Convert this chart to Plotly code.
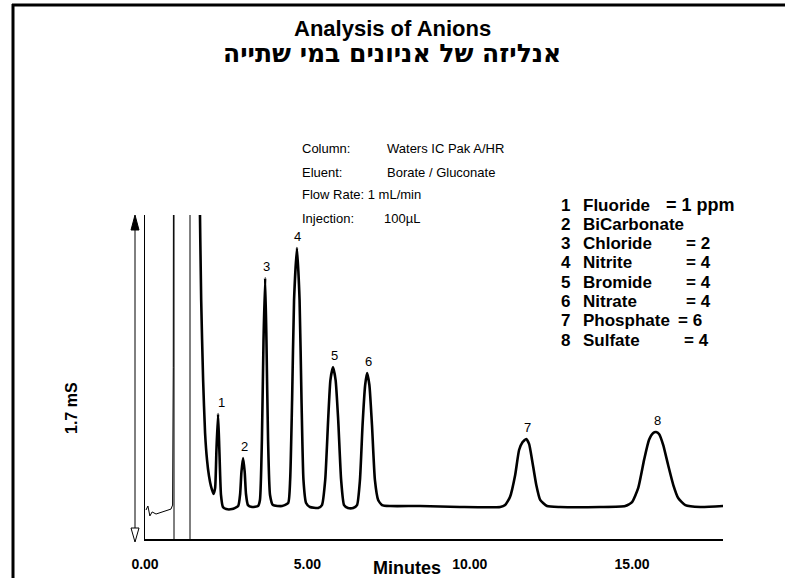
import plotly.graph_objects as go

# ---------------- data ----------------
# early trace segment (thin, before the injection spike)
pre_time = [0.03, 0.09, 0.15, 0.22, 0.34, 0.52, 0.71, 0.80, 0.85, 0.87, 0.88]
pre_signal = [0.152, 0.173, 0.121, 0.142, 0.131, 0.142, 0.152, 0.157, 0.178, 0.9, 2.5]

# main chromatogram (minutes, µS)
time_min = [1.66, 1.68, 1.73, 1.79, 1.85, 1.91, 1.97, 2.03, 2.11,
            2.16, 2.20, 2.25, 2.29, 2.34, 2.40, 2.50, 2.68,
            2.87, 2.93, 2.97, 3.02, 3.07, 3.11, 3.17, 3.30, 3.48,
            3.54, 3.60, 3.65, 3.70, 3.74, 3.79, 3.85, 3.94, 4.22,
            4.41, 4.47, 4.53, 4.59, 4.68, 4.76, 4.82, 4.88, 4.96, 5.08, 5.33,
            5.45, 5.55, 5.64, 5.71, 5.79, 5.87, 5.95, 6.04, 6.13, 6.25, 6.41,
            6.53, 6.62, 6.70, 6.78, 6.84, 6.91, 6.99, 7.08, 7.18, 7.30, 7.55,
            8.47, 9.70, 10.94,
            11.09, 11.24, 11.40, 11.52, 11.63, 11.74, 11.83, 11.92, 12.05, 12.17, 12.38,
            12.78, 14.02, 14.79,
            15.00, 15.19, 15.37, 15.52, 15.65, 15.74, 15.83, 15.96, 16.11, 16.27, 16.42,
            16.64, 17.10, 17.81]
signal_uS = [2.5, 1.88, 1.254, 0.834, 0.556, 0.415, 0.331, 0.278, 0.236,
             0.268, 0.467, 0.656, 0.467, 0.231, 0.168, 0.157, 0.157,
             0.173, 0.236, 0.352, 0.425, 0.352, 0.236, 0.178, 0.168, 0.173,
             0.205, 0.519, 1.044, 1.369, 1.044, 0.519, 0.231, 0.178, 0.173,
             0.189, 0.310, 0.729, 1.254, 1.527, 1.254, 0.729, 0.310, 0.189, 0.168, 0.163,
             0.178, 0.310, 0.624, 0.834, 0.902, 0.834, 0.624, 0.310, 0.178, 0.163, 0.163,
             0.178, 0.310, 0.598, 0.808, 0.871, 0.808, 0.598, 0.310, 0.205, 0.178, 0.173,
             0.173, 0.168, 0.168,
             0.178, 0.220, 0.336, 0.467, 0.509, 0.525, 0.498, 0.415, 0.283, 0.205, 0.173,
             0.168, 0.168, 0.173,
             0.194, 0.268, 0.415, 0.519, 0.556, 0.561, 0.551, 0.493, 0.388, 0.283, 0.215,
             0.178, 0.168, 0.173]

# event marker lines (minutes)
marker_times = [0.893, 1.386]

# peaks
peak_numbers = ["1", "2", "3", "4", "5", "6", "7", "8"]
peak_times = [2.25, 3.02, 3.70, 4.68, 5.79, 6.84, 11.74, 15.74]
peak_heights = [0.656, 0.425, 1.369, 1.527, 0.902, 0.871, 0.525, 0.561]

# legend of anions
anion_names = ["Fluoride", "BiCarbonate", "Chloride", "Nitrite", "Bromide",
               "Nitrate", "Phosphate", "Sulfate"]
anion_amounts = ["= 1 ppm", "", "= 2", "= 4", "= 4", "= 4", "= 6", "= 4"]

# conditions
cond_labels = ["Column:", "Eluent:", "Flow Rate: 1 mL/min", "Injection:"]
cond_values = ["Waters IC Pak A/HR", "Borate / Gluconate", "", "100µL"]

x_tick_vals = [0, 5, 10, 15]
x_tick_text = ["0.00", "5.00", "10.00", "15.00"]
scale_value = 1.7

# ---------------- layout helpers ----------------
W, H = 785, 578
L, R, T, B = 145, 723, 215, 539
FONT = "Liberation Sans, Arial, sans-serif"
HEB_FONT = "DejaVu Sans, Liberation Sans, sans-serif"


def px(x):
    return (x - L) / (R - L)


def py(y):
    return (B - y) / (B - T)


fig = go.Figure()
fig.add_trace(go.Scatter(x=pre_time, y=pre_signal, mode="lines",
                         line=dict(color="black", width=1), hoverinfo="skip"))
fig.add_trace(go.Scatter(x=time_min, y=signal_uS, mode="lines",
                         line=dict(color="black", width=2.6, shape="spline", smoothing=0.5),
                         hoverinfo="skip"))

shapes = []
for mt in marker_times:
    shapes.append(dict(type="line", xref="x", yref="paper", x0=mt, x1=mt, y0=0, y1=1,
                       line=dict(color="black", width=1)))

# scale arrow
ax = px(135)
shapes.append(dict(type="line", xref="paper", yref="paper", x0=ax, x1=ax,
                   y0=py(528), y1=py(229), line=dict(color="black", width=1)))
shapes.append(dict(type="path", xref="paper", yref="paper",
                   path=f"M {px(131)} {py(230)} L {px(139)} {py(230)} L {ax} {py(215)} Z",
                   fillcolor="black", line=dict(color="black", width=1)))
shapes.append(dict(type="path", xref="paper", yref="paper",
                   path=f"M {px(131)} {py(528)} L {px(139)} {py(528)} L {ax} {py(542)} Z",
                   fillcolor="white", line=dict(color="black", width=1)))

# outer frame
shapes.append(dict(type="line", xref="paper", yref="paper", x0=px(12), x1=px(790),
                   y0=py(5), y1=py(5), line=dict(color="black", width=3)))
shapes.append(dict(type="line", xref="paper", yref="paper", x0=px(13), x1=px(13),
                   y0=py(4), y1=py(585), line=dict(color="black", width=3)))

ann = []
ann.append(dict(text="Analysis of Anions", x=px(392), y=py(28), xref="paper", yref="paper",
                showarrow=False, xanchor="center", yanchor="middle",
                font=dict(family=FONT, size=22, color="black", weight="bold")))
ann.append(dict(text="אנליזה של אניונים במי שתייה", x=px(392), y=py(53), xref="paper",
                yref="paper", showarrow=False, xanchor="center", yanchor="middle",
                font=dict(family=HEB_FONT, size=25, color="black", weight="bold")))

cond_y = [148, 172, 195, 218]
for lab, val, yy in zip(cond_labels, cond_values, cond_y):
    ann.append(dict(text=lab, x=px(300), y=py(yy), xref="paper", yref="paper",
                    showarrow=False, xanchor="left", yanchor="middle",
                    font=dict(family=FONT, size=13, color="black")))
    if val:
        ann.append(dict(text=val, x=px(382 if lab.startswith("Inj") else 385), y=py(yy),
                        xref="paper", yref="paper", showarrow=False, xanchor="left",
                        yanchor="middle", font=dict(family=FONT, size=13, color="black")))

amount_x = [664, 0, 684, 684, 684, 684, 676, 682]
for i, (num, name, amt) in enumerate(zip(peak_numbers, anion_names, anion_amounts)):
    yy = 205 + i * 19.3
    f = dict(family=FONT, size=17, color="black", weight="bold")
    ann.append(dict(text=num, x=px(559), y=py(yy), xref="paper", yref="paper",
                    showarrow=False, xanchor="left", yanchor="middle", font=f))
    ann.append(dict(text=name, x=px(581), y=py(yy), xref="paper", yref="paper",
                    showarrow=False, xanchor="left", yanchor="middle", font=f))
    if amt:
        ann.append(dict(text=amt, x=px(amount_x[i]), y=py(yy), xref="paper", yref="paper",
                        showarrow=False, xanchor="left", yanchor="middle",
                        font=dict(family=FONT, size=18 if i == 0 else 17, color="black",
                                  weight="bold")))

for num, t, h in zip(peak_numbers, peak_times, peak_heights):
    ann.append(dict(text=num, x=t, y=h, xref="x", yref="y", showarrow=False,
                    xanchor="center", yanchor="bottom", yshift=2,
                    xshift=3 if num == "1" else 1,
                    font=dict(family=FONT, size=13, color="black")))

ann.append(dict(text="Minutes", x=px(407), y=py(568), xref="paper", yref="paper",
                showarrow=False, xanchor="center", yanchor="middle",
                font=dict(family=FONT, size=18, color="black", weight="bold")))
ann.append(dict(text=f"{scale_value} mS", x=px(71), y=py(408), xref="paper", yref="paper",
                showarrow=False, xanchor="center", yanchor="middle", textangle=-90,
                font=dict(family=FONT, size=16, color="black", weight="bold")))

fig.update_layout(
    width=W, height=H,
    margin=dict(l=L, r=W - R, t=T, b=H - B, pad=0, autoexpand=False),
    paper_bgcolor="white", plot_bgcolor="white",
    showlegend=False,
    shapes=shapes, annotations=ann,
    xaxis=dict(range=[0, 17.8], showline=True, linecolor="black", linewidth=1.5,
               showgrid=False, zeroline=False, ticks="", tickvals=x_tick_vals,
               ticktext=x_tick_text, ticklabelstandoff=11, automargin=False,
               tickfont=dict(family=FONT, size=14, color="black", weight="bold")),
    yaxis=dict(range=[0, 1.7], showline=True, linecolor="black", linewidth=1,
               showgrid=False, zeroline=False, showticklabels=False, ticks="",
               automargin=False),
)

fig.write_html("out.html", config={"displayModeBar": False},
               post_script="document.body.style.margin='0px';")
